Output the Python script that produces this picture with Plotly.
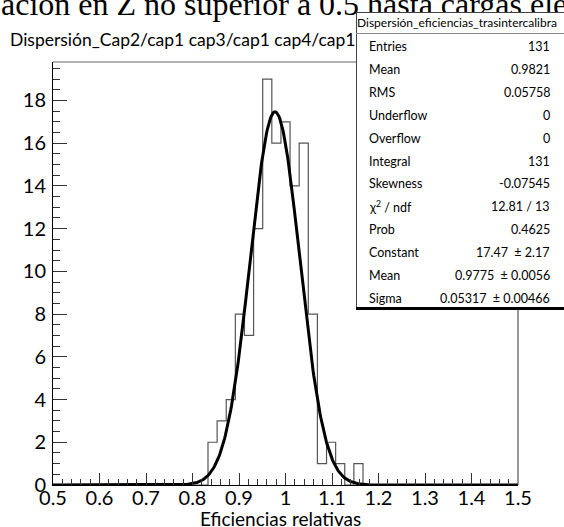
import numpy as np
import plotly.graph_objects as go

# ---------------- data ----------------
bin_lo, bin_hi, nbins = 0.5, 1.5, 51
counts = [0]*17 + [2, 3, 4, 8, 7, 12, 19, 16, 17, 14, 16, 8, 1, 2, 1, 0, 1] + [0]*17
fit_constant, fit_mean, fit_sigma = 17.47, 0.9775, 0.05317

x_tickvals = [0.5, 0.6, 0.7, 0.8, 0.9, 1.0, 1.1, 1.2, 1.3, 1.4, 1.5]
x_ticktext = ["0.5", "0.6", "0.7", "0.8", "0.9", "1", "1.1", "1.2", "1.3", "1.4", "1.5"]
y_tickvals = [0, 2, 4, 6, 8, 10, 12, 14, 16, 18]

stats_title = "Dispersión_eficiencias_trasintercalibra"
stats_labels = ["Entries", "Mean", "RMS", "Underflow", "Overflow", "Integral",
                "Skewness", "χ<sup>2</sup> / ndf", "Prob", "Constant", "Mean", "Sigma"]
stats_values = ["131", "0.9821", "0.05758", "0", "0", "131", "-0.07545",
                "12.81 / 13", "0.4625", "17.47  ± 2.17", "0.9775  ± 0.0056",
                "0.05317  ± 0.00466"]

hist_title = "Dispersión_Cap2/cap1 cap3/cap1 cap4/cap1"
top_text = "ación en Z no superior a 0.5 hasta cargas ele"
x_title = "Eficiencias relativas"

# ---------------- layout geometry ----------------
W, H = 564, 527
ML, MR, MT, MB = 53, 46, 62, 42
PW, PH = W - ML - MR, H - MT - MB

def pxx(px):
    return (px - ML) / PW

def pxy(py):
    return (H - MB - py) / PH

edges = np.linspace(bin_lo, bin_hi, nbins + 1)
step_x = list(edges[:-1]) + [edges[-1]]
step_y = list(counts) + [0]

xf = np.linspace(bin_lo, bin_hi, 600)
yf = fit_constant * np.exp(-0.5 * ((xf - fit_mean) / fit_sigma) ** 2)

fig = go.Figure()
fig.add_trace(go.Scatter(x=step_x, y=step_y, mode="lines", line=dict(shape="hv", color="#555555", width=1.2),
                         hoverinfo="skip", showlegend=False))
fig.add_trace(go.Scatter(x=xf, y=yf, mode="lines", line=dict(color="black", width=3),
                         showlegend=False))

font_main = "Lato, 'Open Sans', sans-serif"

fig.update_layout(
    width=W, height=H,
    margin=dict(l=ML, r=MR, t=MT, b=MB),
    paper_bgcolor="white", plot_bgcolor="white",
    font=dict(family=font_main, color="black"),
    xaxis=dict(range=[bin_lo, bin_hi], tickvals=x_tickvals, ticktext=x_ticktext,
               ticks="inside", ticklen=12, tickcolor="#333", tickwidth=1,
               minor=dict(dtick=0.02, ticks="inside", ticklen=6, tickcolor="#333", tickwidth=1, showgrid=False),
               showgrid=False, zeroline=False, showline=True, linecolor="black", linewidth=1,
               tickfont=dict(size=20, family=font_main), ticklabelstandoff=-5),
    yaxis=dict(range=[0, 19.8], tickvals=y_tickvals,
               ticks="inside", ticklen=14, tickcolor="#333", tickwidth=1,
               minor=dict(dtick=0.5, ticks="inside", ticklen=7, tickcolor="#333", tickwidth=1, showgrid=False),
               showgrid=False, zeroline=False, showline=True, linecolor="black", linewidth=1,
               tickfont=dict(size=20, family=font_main), ticklabelstandoff=2),
)

shapes = []
# frame top (gray) and right
shapes.append(dict(type="line", xref="paper", yref="paper", x0=0, x1=1, y0=1, y1=1,
                   line=dict(color="#999999", width=1.5)))
shapes.append(dict(type="line", xref="paper", yref="paper", x0=1, x1=1, y0=0, y1=1,
                   line=dict(color="#333333", width=1)))
fig.update_layout(shapes=shapes)

ann = []
# top (cut) title, drawn first so the stats box covers it
ann.append(dict(text=top_text, x=pxx(-1), y=pxy(4), xref="paper", yref="paper",
                xanchor="left", yanchor="middle", showarrow=False,
                font=dict(size=32, family="'Liberation Serif', 'Times New Roman', serif")))

# stats box as annotations (so it covers the top text)
bx0, bx1, by0, by1 = 356, 572, 12, 307
ann.append(dict(text=" ", x=pxx(bx0), y=pxy(by0), xref="paper", yref="paper",
                xanchor="left", yanchor="top", showarrow=False, width=bx1 - bx0, height=by1 - by0,
                bgcolor="white", bordercolor="#444", borderwidth=1, borderpad=0))
ann.append(dict(text=" ", x=pxx(bx0), y=pxy(33), xref="paper", yref="paper",
                xanchor="left", yanchor="middle", showarrow=False, width=bx1 - bx0, height=1,
                bgcolor="#888", borderwidth=0, borderpad=0, font=dict(size=1)))
ann.append(dict(text=" ", x=pxx(bx0), y=pxy(308.5), xref="paper", yref="paper",
                xanchor="left", yanchor="middle", showarrow=False, width=bx1 - bx0, height=3,
                bgcolor="black", borderwidth=0, borderpad=0, font=dict(size=1)))

ann.append(dict(text=stats_title, x=pxx(457), y=pxy(23), xref="paper", yref="paper",
                xanchor="center", yanchor="middle", showarrow=False,
                font=dict(size=12, family=font_main)))
row_y0, row_dy = 46.7, 22.88
for i, (lab, val) in enumerate(zip(stats_labels, stats_values)):
    yy = pxy(row_y0 + i * row_dy)
    ann.append(dict(text=lab, x=pxx(367), y=yy, xref="paper", yref="paper",
                    xanchor="left", yanchor="middle", showarrow=False, font=dict(size=12.5, family=font_main)))
    ann.append(dict(text=val, x=pxx(552), y=yy, xref="paper", yref="paper",
                    xanchor="right", yanchor="middle", showarrow=False, font=dict(size=12.5, family=font_main)))
ann.append(dict(text=hist_title, x=pxx(8), y=pxy(40), xref="paper", yref="paper",
                xanchor="left", yanchor="middle", showarrow=False, font=dict(size=17.5, family=font_main)))
ann.append(dict(text=x_title, x=pxx(280), y=pxy(518), xref="paper", yref="paper",
                xanchor="center", yanchor="middle", showarrow=False, font=dict(size=19, family=font_main)))
fig.update_layout(annotations=ann)

fig.write_html("out.html", config={"displayModeBar": False},
               post_script="document.body.style.margin='0';document.body.style.overflow='hidden';")
